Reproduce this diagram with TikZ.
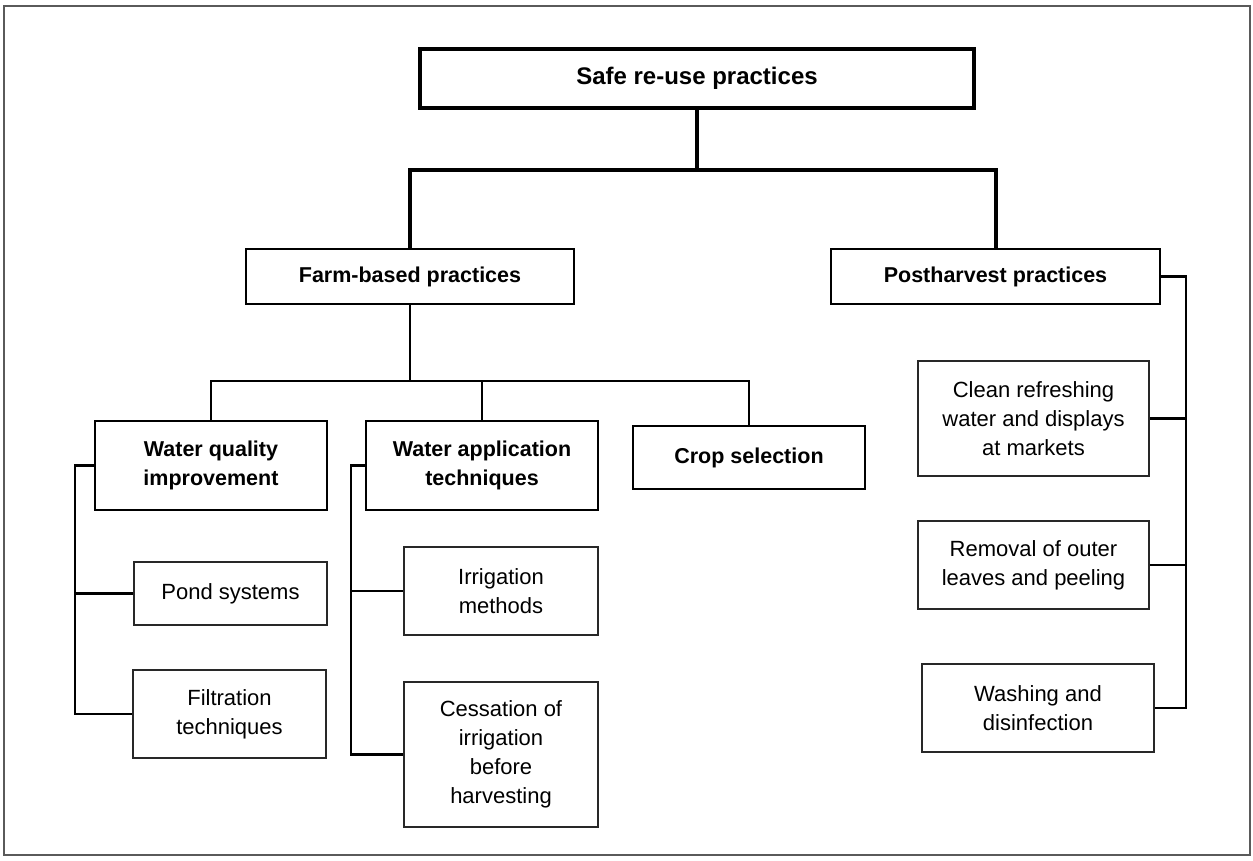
\documentclass[tikz,border=0pt]{standalone}
\usepackage{fontspec}
\setmainfont{Liberation Sans}
\usepackage{tikz}
\usetikzlibrary{positioning}
\definecolor{framegray}{RGB}{90, 90, 90}
\definecolor{boxgray}{RGB}{40, 40, 40}

\begin{document}
\begin{tikzpicture}[x=1pt, y=-1pt,
    every node/.style={font=\fontsize{22}{29}\selectfont, align=center, inner sep=0pt},
    leafbox/.style={draw=boxgray, line width=1.6pt},
    groupbox/.style={draw, line width=2.4pt, font=\fontsize{21.5}{29}\selectfont\bfseries},
    topbox/.style={draw, line width=4pt, font=\fontsize{24}{29}\selectfont\bfseries},
    link/.style={line width=2.5pt},
    mainlink/.style={line width=4pt}]
  \useasboundingbox (0,0) rectangle (1253,860);
  % Border
  \draw[framegray, line width=1.2pt] (4,6) rectangle (1250,855);

  % Top level
  \node[topbox, minimum width=554pt, minimum height=59pt] (safe) at (697,78.5) {Safe re-use practices};
  \node[groupbox, minimum width=328pt, minimum height=55pt] (farm) at (410,276.5) {Farm-based practices};
  \node[groupbox, minimum width=329pt, minimum height=55pt] (post) at (995.5,276.5) {Postharvest practices};
  \coordinate (topbus) at (697,170);
  \draw[mainlink] (safe.south) -- (safe.south |- topbus);
  \draw[mainlink] (farm.north) -- (farm.north |- topbus) -- (post.north |- topbus) -- (post.north);

  % Farm-based branches
  \node[groupbox, line width=1.6pt, minimum width=232pt, minimum height=89pt] (wqi) at (211,465.5) {Water quality\\improvement};
  \node[groupbox, line width=1.6pt, minimum width=232pt, minimum height=89pt] (wat) at (482,465.5) {Water application\\techniques};
  \node[groupbox, line width=1.6pt, minimum width=232pt, minimum height=63pt] (crop) at (749,457.5) {Crop selection};
  \coordinate (farmbus) at (410,381);
  \draw[link] (farm.south) -- (farm.south |- farmbus);
  \draw[link] (wqi.north) -- (wqi.north |- farmbus) -- (crop.north |- farmbus) -- (crop.north);
  \draw[link] (wat.north) -- (wat.north |- farmbus);

  % Water quality improvement
  \node[leafbox, minimum width=193pt, minimum height=63pt] (pond) at (230.5,593.5) {Pond systems};
  \node[leafbox, minimum width=193pt, minimum height=88pt] (filt) at (229.5,714) {Filtration\\techniques};
  \coordinate (wqibar) at (75,0);
  \draw[link] (wqi.west) -- (wqi.west -| wqibar) |- (filt.west);
  \draw[link] (pond.west) -- (pond.west -| wqibar);

  % Water application techniques
  \node[leafbox, minimum width=194pt, minimum height=88pt] (irr) at (501,591) {Irrigation\\methods};
  \node[leafbox, minimum width=194pt, minimum height=145pt] (cess) at (501,754.5) {Cessation of\\irrigation\\before\\harvesting};
  \coordinate (watbar) at (351,0);
  \draw[link] (wat.west) -- (wat.west -| watbar) |- (cess.west);
  \draw[link] (irr.west) -- (irr.west -| watbar);

  % Postharvest practices
  \node[leafbox, minimum width=231pt, minimum height=115pt] (clean) at (1033.5,418.5) {Clean refreshing\\water and displays\\at markets};
  \node[leafbox, minimum width=231pt, minimum height=88pt] (remov) at (1033.5,565) {Removal of outer\\leaves and peeling};
  \node[leafbox, minimum width=232pt, minimum height=88pt] (wash) at (1038,708) {Washing and\\disinfection};
  \coordinate (postbar) at (1186,0);
  \draw[link] (post.east) -- (post.east -| postbar) |- (wash.east);
  \draw[link] (clean.east) -- (clean.east -| postbar);
  \draw[link] (remov.east) -- (remov.east -| postbar);
\end{tikzpicture}
\end{document}
